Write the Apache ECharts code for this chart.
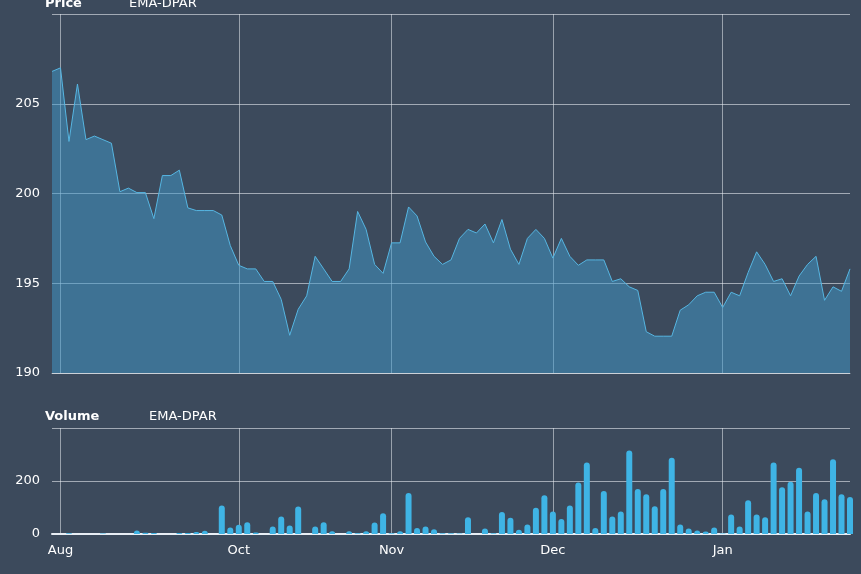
<!DOCTYPE html>
<html>
<head>
<meta charset="utf-8">
<script src="https://cdn.jsdelivr.net/npm/echarts@6/dist/echarts.min.js"></script>
<style>
  html, body { margin: 0; padding: 0; background: #3c4a5c; }
  #chart { width: 861px; height: 574px; }
</style>
</head>
<body>
<div id="chart"></div>
<script>
var price = [206.8,207.0,202.9,206.1,203.0,203.2,203.0,202.8,200.1,200.3,200.05,200.05,198.6,201.0,201.0,201.3,199.2,199.05,199.05,199.05,198.8,197.1,196.0,195.8,195.8,195.1,195.1,194.1,192.1,193.55,194.3,196.5,195.8,195.1,195.1,195.8,199.0,198.0,196.05,195.55,197.25,197.25,199.25,198.75,197.3,196.5,196.05,196.3,
  197.5,198.0,197.8,198.3,197.25,198.55,196.9,196.05,197.5,198.0,197.5,196.4,197.5,196.5,196.0,196.3,196.3,196.3,195.1,195.25,194.8,194.6,192.3,192.05,192.05,192.05,193.5,193.8,194.3,194.5,194.5,193.65,194.5,194.3,195.6,196.75,196.05,195.1,195.25,194.3,195.4,196.05,196.5,194.05,194.8,194.55,195.8];
var volume = [0,0,3,0,0,0,2,0,0,0,13,5,4,0,0,4,4,8,12,0,108,25,35,44,6,0,28,66,32,104,0,28,44,10,0,10,3,10,43,78,3,10,155,23,28,18,3,3,
  2,63,0,21,3,83,61,16,36,99,146,85,57,108,194,270,23,162,66,85,315,170,150,105,170,288,36,21,13,9,25,2,74,28,127,74,63,270,176,197,250,85,155,131,282,150,140];
var monthIdx = [1, 22, 40, 59, 79];
var monthNames = ['Aug', 'Oct', 'Nov', 'Dec', 'Jan'];
var days = price.map(function(_, i) { return String(i); });

var chart = echarts.init(document.getElementById('chart'), null, { renderer: 'canvas' });
var isMonth = function(i) { return monthIdx.indexOf(i) >= 0; };
var vLine = { show: true, interval: isMonth, lineStyle: { color: 'rgba(230,235,240,0.55)', width: 1 } };
var hLine = { show: true, lineStyle: { color: 'rgba(230,235,240,0.6)', width: 1 } };
var font = 'Verdana, "DejaVu Sans", sans-serif';

chart.setOption({
  animation: false,
  backgroundColor: '#3c4a5c',
  textStyle: { fontFamily: font },
  title: [
    { text: 'Price', left: 40, top: -8, textStyle: { color: '#fff', fontSize: 13, fontWeight: 'bold', fontFamily: font } },
    { text: 'EMA-DPAR', left: 124, top: -8, textStyle: { color: '#fff', fontSize: 13, fontWeight: 'normal', fontFamily: font } },
    { text: 'Volume', left: 40, top: 405, textStyle: { color: '#fff', fontSize: 13, fontWeight: 'bold', fontFamily: font } },
    { text: 'EMA-DPAR', left: 144, top: 405, textStyle: { color: '#fff', fontSize: 13, fontWeight: 'normal', fontFamily: font } }
  ],
  grid: [
    { left: 52, right: 11, top: 14, bottom: 201 },
    { left: 52, right: 11, top: 428, bottom: 40 }
  ],
  xAxis: [
    { type: 'category', gridIndex: 0, data: days, boundaryGap: false,
      axisLine: { lineStyle: { color: 'rgba(230,235,240,0.6)' } }, axisTick: { show: false }, axisLabel: { show: false },
      splitLine: vLine },
    { type: 'category', gridIndex: 1, data: days, boundaryGap: false,
      axisLine: { lineStyle: { color: '#e8eef5', width: 2 } }, axisTick: { show: false },
      axisLabel: { interval: isMonth, color: '#fff', fontSize: 13, margin: 10,
        formatter: function(v) { return monthNames[monthIdx.indexOf(+v)]; } },
      splitLine: vLine }
  ],
  yAxis: [
    { type: 'value', gridIndex: 0, min: 190, max: 210, interval: 5,
      axisLine: { show: false }, axisTick: { show: false },
      axisLabel: { color: '#fff', fontSize: 13, showMaxLabel: false, margin: 12 }, splitLine: hLine },
    { type: 'value', gridIndex: 1, min: 0, max: 400, interval: 200,
      axisLine: { show: false }, axisTick: { show: false },
      axisLabel: { color: '#fff', fontSize: 13, showMaxLabel: false, margin: 12 }, splitLine: hLine }
  ],
  series: [
    { type: 'line', xAxisIndex: 0, yAxisIndex: 0, data: price, symbol: 'none',
      lineStyle: { color: '#56b6e2', width: 1 },
      areaStyle: { color: 'rgba(65,150,200,0.75)' } },
    { type: 'bar', xAxisIndex: 1, yAxisIndex: 1, data: volume, barWidth: 6,
      itemStyle: { color: '#3fb4e5', borderRadius: [3, 3, 0, 0] } }
  ]
});
</script>
</body>
</html>
